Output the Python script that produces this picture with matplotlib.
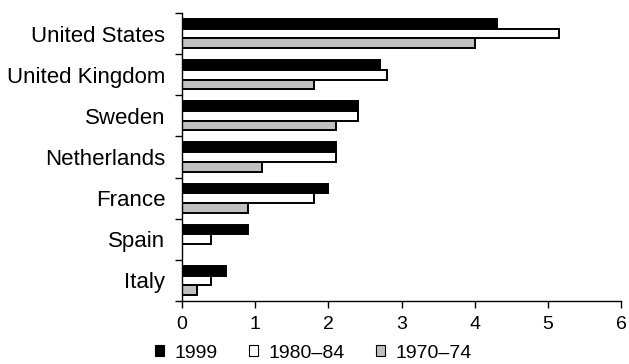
import numpy as np
import matplotlib
matplotlib.use("Agg")
import matplotlib.pyplot as plt
from matplotlib.patches import Patch

plt.rcParams['font.family'] = ['Liberation Sans', 'DejaVu Sans']

# data (top to bottom)
countries = ["United States", "United Kingdom", "Sweden", "Netherlands", "France", "Spain", "Italy"]
v1999 = [4.3, 2.7, 2.4, 2.1, 2.0, 0.9, 0.6]
v1980 = [5.15, 2.8, 2.4, 2.1, 1.8, 0.4, 0.4]
v1970 = [4.0, 1.8, 2.1, 1.1, 0.9, 0.0, 0.2]
series_labels = ["1999", "1980\u201384", "1970\u201374"]
colors = ["black", "white", "#c0c0c0"]

fig = plt.figure(figsize=(6.29, 3.64), dpi=100)
ax = fig.add_axes([182/629, 1 - 301/364, (621-182)/629, (301-13)/364])

n = len(countries)
y = np.arange(n)[::-1]  # top category has highest y
h = 0.235
for k, (vals, c) in enumerate(zip([v1999, v1980, v1970], colors)):
    ypos = y + h - k * h
    ax.barh(ypos, vals, height=h, color=c, edgecolor="black", linewidth=1.4)

ax.set_xlim(0, 6)
ax.set_ylim(-0.5, n - 0.5)
ax.set_xticks(range(7))
ax.set_yticks(y)
ax.set_yticklabels(countries)
ax.set_yticks(np.arange(n + 1) - 0.5, minor=True)
ax.tick_params(axis="y", which="major", length=0, pad=12, labelsize=16)
ax.tick_params(axis="y", which="minor", length=5, width=1)
ax.tick_params(axis="x", length=5, width=1, labelsize=14, pad=6)
for s in ["top", "right"]:
    ax.spines[s].set_visible(False)
for s in ["left", "bottom"]:
    ax.spines[s].set_linewidth(1)

handles = [Patch(facecolor=c, edgecolor="black", linewidth=0.8) for c in colors]
fig.legend(handles, series_labels, ncol=3, loc="center", bbox_to_anchor=(313.5/629, 1 - 353/364),
           frameon=False, fontsize=14, handlelength=0.46, handleheight=0.46,
           handletextpad=0.55, columnspacing=1.6, borderpad=0)

fig.savefig("out.png", dpi=100)
